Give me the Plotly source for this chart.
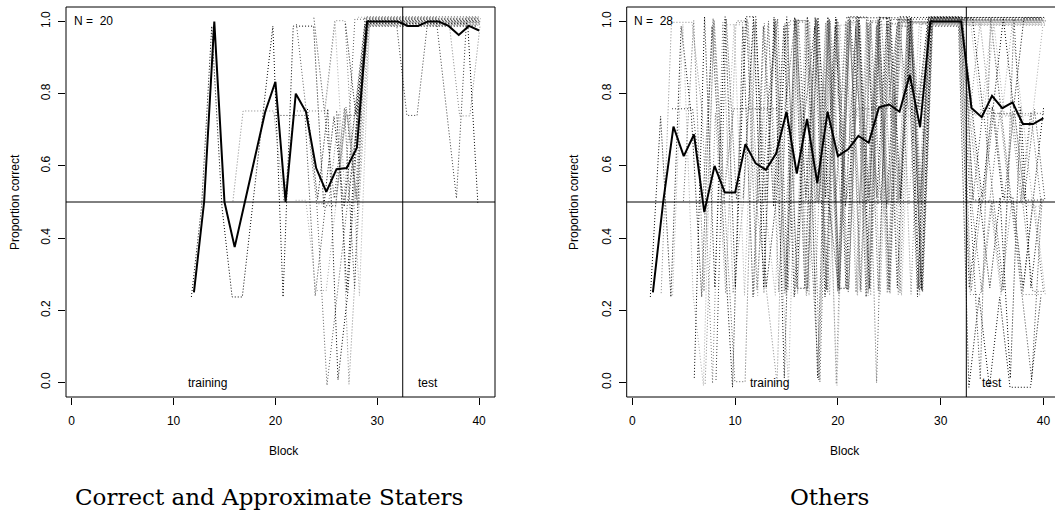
import plotly.graph_objects as go

# ---------------------------------------------------------------------------
# Data: correct responses (out of 4 trials) per block for every subject.
# Training runs from each subject's first block up to block 28, the four
# criterion blocks are 29-32, and the test phase covers blocks 33-40.
# ---------------------------------------------------------------------------
TRIALS_PER_BLOCK = 4
LAST_TRAINING_BLOCK = 28
criterion_blocks = [29, 30, 31, 32]
criterion_correct = [4, 4, 4, 4]
test_blocks = [33, 34, 35, 36, 37, 38, 39, 40]

# Correct and Approximate Staters (N = 20)
cas_start = [12, 16, 20, 22, 22, 23, 24, 24, 25, 26,
             26, 27, 27, 27, 27, 27, 28, 28, 28, 28]
cas_train = [
    [1, 2, 4, 2, 1, 1, 2, 3, 4, 1, 4, 4, 4, 2, 3, 2, 3],
    [2, 3, 3, 3, 3, 2, 3, 3, 3, 3, 4, 4, 2],
    [3, 3, 3, 3, 1, 2, 2, 3, 3],
    [2, 2, 1, 1, 2, 3, 2],
    [4, 3, 2, 0, 1, 2, 3],
    [3, 2, 3, 0, 1, 3],
    [2, 2, 3, 0, 2],
    [4, 3, 2, 3, 1],
    [3, 4, 2, 3],
    [2, 3, 2],
    [3, 1, 3],
    [3, 2],
    [2, 3],
    [3, 1],
    [2, 4],
    [4, 3],
    [2],
    [3],
    [4],
    [3],
]
cas_test = [
    [4, 4, 4, 4, 4, 4, 4, 4],
    [4, 4, 4, 4, 4, 4, 4, 4],
    [3, 3, 4, 4, 4, 4, 4, 4],
    [4, 4, 4, 4, 4, 4, 4, 4],
    [4, 4, 4, 4, 4, 4, 4, 4],
    [4, 4, 4, 4, 4, 4, 4, 4],
    [4, 4, 4, 4, 4, 4, 4, 4],
    [4, 4, 4, 4, 3, 2, 4, 4],
    [4, 4, 4, 4, 4, 4, 4, 4],
    [4, 4, 4, 4, 4, 4, 4, 4],
    [4, 4, 4, 4, 4, 4, 4, 4],
    [4, 4, 4, 4, 4, 3, 3, 4],
    [4, 4, 4, 4, 4, 4, 4, 4],
    [4, 4, 4, 4, 4, 4, 4, 4],
    [4, 4, 4, 4, 4, 4, 4, 4],
    [4, 4, 4, 4, 4, 4, 4, 2],
    [4, 4, 4, 4, 4, 4, 4, 4],
    [4, 4, 4, 4, 4, 4, 4, 4],
    [4, 4, 4, 4, 4, 4, 4, 4],
    [4, 4, 4, 4, 4, 4, 4, 4],
]
cas_mean_blocks = list(range(12, 41))
cas_mean = [0.25, 0.5, 1.0, 0.5, 0.375, 0.5, 0.625, 0.75, 0.833, 0.5,
            0.8, 0.75, 0.594, 0.528, 0.591, 0.594, 0.65,
            1.0, 1.0, 1.0, 1.0,
            0.9875, 0.9875, 1.0, 1.0, 0.9875, 0.9625, 0.9875, 0.975]

# Others (N = 28)
oth_start = [2, 3, 4, 4, 5, 6, 7, 8, 9, 10, 11, 12, 13, 14,
             15, 16, 17, 18, 19, 20, 21, 22, 23, 24, 25, 26, 27, 28]
oth_train = [
    [1, 3, 1, 4, 3, 1, 4, 2, 0, 4, 1, 4, 2, 4, 1, 3, 4, 1, 4, 2, 4, 1, 4, 2, 4, 4, 1],
    [1, 4, 4, 4, 3, 0, 4, 1, 2, 4, 1, 4, 1, 4, 4, 1, 4, 2, 4, 4, 2, 4, 1, 4, 4, 4],
    [3, 3, 3, 2, 4, 2, 3, 3, 3, 3, 3, 3, 4, 2, 4, 1, 4, 2, 3, 3, 3, 3, 4, 3, 3],
    [1, 4, 1, 0, 4, 2, 4, 1, 4, 2, 1, 4, 4, 1, 4, 3, 0, 4, 1, 4, 2, 4, 4, 2, 4],
    [2, 4, 1, 4, 2, 0, 0, 4, 2, 4, 1, 4, 4, 2, 4, 1, 4, 4, 1, 4, 2, 4, 4, 3],
    [0, 4, 1, 4, 1, 4, 4, 1, 2, 4, 1, 4, 0, 4, 1, 4, 4, 2, 4, 1, 4, 4, 2],
    [0, 3, 1, 4, 4, 2, 1, 0, 4, 1, 4, 2, 4, 1, 4, 2, 4, 4, 1, 4, 4, 4],
    [0, 4, 2, 4, 1, 3, 4, 1, 4, 2, 0, 4, 1, 4, 3, 1, 4, 4, 2, 4, 1],
    [4, 4, 4, 1, 4, 2, 0, 4, 1, 4, 1, 4, 2, 4, 1, 4, 4, 1, 4, 2],
    [4, 4, 2, 4, 1, 4, 4, 4, 0, 4, 2, 4, 1, 4, 4, 2, 4, 4, 1],
    [2, 4, 1, 4, 0, 4, 1, 4, 2, 4, 1, 4, 4, 2, 4, 1, 4, 3],
    [1, 4, 2, 4, 1, 4, 2, 4, 0, 4, 4, 1, 4, 2, 4, 4, 2],
    [2, 4, 1, 4, 2, 4, 1, 4, 1, 4, 2, 4, 1, 4, 4, 4],
    [4, 1, 4, 1, 4, 2, 4, 4, 4, 1, 4, 2, 4, 4, 1],
    [2, 4, 1, 4, 1, 4, 1, 4, 2, 4, 1, 4, 4, 2],
    [1, 1, 4, 2, 1, 1, 4, 1, 4, 4, 2, 4, 4],
    [4, 2, 4, 1, 4, 2, 4, 1, 4, 4, 1, 4],
    [2, 4, 1, 4, 1, 4, 2, 4, 4, 4, 1],
    [4, 3, 3, 3, 3, 3, 3, 3, 3, 3],
    [2, 4, 1, 4, 0, 4, 2, 4, 4],
    [4, 4, 4, 4, 4, 4, 4, 1],
    [1, 4, 2, 4, 1, 4, 4],
    [4, 1, 4, 2, 4, 1],
    [1, 4, 2, 4, 2],
    [4, 1, 4, 4],
    [2, 4, 1],
    [4, 2],
    [1],
]
oth_test = [
    [0, 1, 0, 1, 0, 0, 0, 1],
    [4, 4, 4, 4, 4, 4, 4, 4],
    [2, 0, 4, 3, 2, 1, 0, 2],
    [4, 4, 4, 4, 4, 4, 4, 4],
    [1, 2, 2, 1, 3, 2, 1, 1],
    [3, 2, 3, 2, 2, 1, 2, 3],
    [4, 4, 4, 4, 4, 4, 4, 4],
    [2, 3, 2, 1, 4, 2, 3, 2],
    [3, 3, 4, 3, 3, 2, 2, 1],
    [4, 4, 4, 4, 4, 4, 4, 4],
    [1, 2, 1, 2, 0, 3, 1, 2],
    [3, 4, 3, 3, 3, 2, 3, 3],
    [4, 4, 4, 4, 4, 4, 4, 4],
    [4, 3, 4, 3, 4, 3, 3, 4],
    [2, 1, 2, 2, 2, 1, 2, 1],
    [4, 4, 4, 4, 4, 4, 4, 4],
    [3, 3, 3, 3, 3, 3, 3, 3],
    [2, 2, 3, 2, 3, 2, 2, 2],
    [4, 4, 4, 4, 4, 4, 4, 4],
    [3, 2, 2, 3, 2, 2, 3, 2],
    [4, 4, 4, 4, 4, 4, 4, 4],
    [1, 1, 2, 1, 2, 1, 1, 1],
    [4, 4, 4, 4, 4, 4, 4, 4],
    [3, 2, 3, 3, 3, 3, 2, 2],
    [4, 4, 4, 4, 4, 4, 4, 4],
    [4, 3, 3, 4, 3, 4, 4, 4],
    [4, 4, 4, 4, 4, 4, 4, 4],
    [4, 4, 4, 4, 4, 4, 4, 4],
]
oth_mean_blocks = list(range(2, 41))
oth_mean = [0.25, 0.5, 0.709, 0.627, 0.687, 0.472, 0.600, 0.526, 0.526, 0.660,
            0.607, 0.589, 0.635, 0.75, 0.579, 0.73, 0.552, 0.75, 0.627, 0.646,
            0.683, 0.664, 0.762, 0.770, 0.75, 0.852, 0.707,
            1.0, 1.0, 1.0, 1.0,
            0.76, 0.735, 0.794, 0.76, 0.776, 0.716, 0.716, 0.732]

x_ticks = [0, 10, 20, 30, 40]
y_ticks = [0.0, 0.2, 0.4, 0.6, 0.8, 1.0]
y_tick_text = ["0.0", "0.2", "0.4", "0.6", "0.8", "1.0"]

# ---------------------------------------------------------------------------
# Styling
# ---------------------------------------------------------------------------
W, H = 1055, 510
SANS = "Liberation Sans, Arial, Helvetica, sans-serif"
SERIF = "DejaVu Serif, serif"
GREYS = ["#000000", "#858585", "#3a3a3a", "#a8a8a8", "#5e5e5e"]
SUBJECT_DASH = "1px,2px"


def px_x(p):
    return p / W


def px_y(p):
    return (H - p) / H


def spread(i, n, step, span):
    """Small fixed offset per subject so overlapping paths stay visible."""
    return ((i * step) % n / (n - 1) - 0.5) * span


fig = go.Figure()


def add_panel(starts, train, test, mean_x, mean_y, xa, ya):
    n = len(starts)
    for i, (s, tr, te) in enumerate(zip(starts, train, test)):
        blocks = list(range(s, LAST_TRAINING_BLOCK + 1)) + criterion_blocks + test_blocks
        correct = tr + criterion_correct + te
        dx = spread(i, n, 3, 0.5)
        dy = spread(i, n, 11, 0.026)
        fig.add_trace(go.Scatter(
            x=[b + dx for b in blocks],
            y=[c / TRIALS_PER_BLOCK + dy for c in correct],
            mode="lines", xaxis=xa, yaxis=ya, showlegend=False, hoverinfo="skip",
            line=dict(color=GREYS[i % len(GREYS)], width=1, dash=SUBJECT_DASH),
        ))
    fig.add_trace(go.Scatter(
        x=mean_x, y=mean_y, mode="lines", xaxis=xa, yaxis=ya, showlegend=False,
        line=dict(color="black", width=2),
    ))


add_panel(cas_start, cas_train, cas_test, cas_mean_blocks, cas_mean, "x", "y")
add_panel(oth_start, oth_train, oth_test, oth_mean_blocks, oth_mean, "x2", "y2")

y_dom = [px_y(397), px_y(7)]
axis_common = dict(
    showgrid=False, zeroline=False, showline=False,
    ticks="outside", ticklen=7, tickwidth=1, tickcolor="black",
    tickfont=dict(family=SANS, size=12, color="black"),
)
fig.update_layout(
    width=W, height=H, margin=dict(l=0, r=0, t=0, b=0),
    paper_bgcolor="white", plot_bgcolor="white",
    xaxis=dict(domain=[px_x(66), px_x(495)], range=[-0.56, 41.56],
               tickvals=x_ticks, anchor="y", ticklabelstandoff=6, **axis_common),
    yaxis=dict(domain=y_dom, range=[-0.04, 1.04], tickvals=y_ticks,
               ticktext=y_tick_text, tickangle=-90, anchor="x",
               ticklabelstandoff=3, **axis_common),
    xaxis2=dict(domain=[px_x(626.7), 1.0], range=[-0.55, 41.13],
                tickvals=x_ticks, anchor="y2", ticklabelstandoff=6, **axis_common),
    yaxis2=dict(domain=y_dom, range=[-0.04, 1.04], tickvals=y_ticks,
                ticktext=y_tick_text, tickangle=-90, anchor="x2",
                ticklabelstandoff=3, **axis_common),
)

line_style = dict(color="black", width=1)
shapes = [
    # frame of the first panel
    dict(type="rect", xref="x domain", yref="y domain", x0=0, x1=1, y0=0, y1=1,
         line=line_style),
    # frame of the second panel (its right side runs past the page edge)
    dict(type="line", xref="x2 domain", yref="y2 domain", x0=0, x1=0, y0=0, y1=1,
         line=line_style),
    dict(type="line", xref="x2 domain", yref="y2 domain", x0=0, x1=1, y0=1, y1=1,
         line=line_style),
    dict(type="line", xref="x2 domain", yref="y2 domain", x0=0, x1=1, y0=0, y1=0,
         line=line_style),
]
for xa, ya in (("x", "y"), ("x2", "y2")):
    # chance level and the training / test boundary
    shapes.append(dict(type="line", xref=f"{xa} domain", yref=ya, x0=0, x1=1,
                       y0=0.5, y1=0.5, line=line_style))
    shapes.append(dict(type="line", xref=xa, yref=f"{ya} domain", x0=32.5, x1=32.5,
                       y0=0, y1=1, line=line_style))
fig.update_layout(shapes=shapes)

small = dict(family=SANS, size=12, color="black")
notes = []
for xa, ya, n in (("x", "y", len(cas_start)), ("x2", "y2", len(oth_start))):
    notes.append(dict(x=0, y=1.0, xref=xa, yref=ya, text=f"N = \u00a0{n}",
                      xanchor="left", yanchor="middle", showarrow=False, font=small))
    notes.append(dict(x=13.3, y=0.0, xref=xa, yref=ya, text="training",
                      xanchor="center", yanchor="middle", showarrow=False, font=small))
    notes.append(dict(x=35.0, y=0.0, xref=xa, yref=ya, text="test",
                      xanchor="center", yanchor="middle", showarrow=False, font=small))

for cx in (15, 574):
    notes.append(dict(x=px_x(cx), y=px_y(202), xref="paper", yref="paper",
                      text="Proportion correct", textangle=-90, showarrow=False,
                      xanchor="center", yanchor="middle", font=small))
for cx in (284, 845):
    notes.append(dict(x=px_x(cx), y=px_y(451), xref="paper", yref="paper",
                      text="Block", showarrow=False,
                      xanchor="center", yanchor="middle", font=small))

title_font = dict(family=SERIF, size=23, color="black")
notes.append(dict(x=px_x(269.5), y=px_y(497), xref="paper", yref="paper",
                  text="Correct and Approximate Staters", showarrow=False,
                  xanchor="center", yanchor="middle", font=title_font))
notes.append(dict(x=px_x(829.5), y=px_y(497), xref="paper", yref="paper",
                  text="Others", showarrow=False,
                  xanchor="center", yanchor="middle", font=title_font))
fig.update_layout(annotations=notes)

fig.write_html("out.html")
